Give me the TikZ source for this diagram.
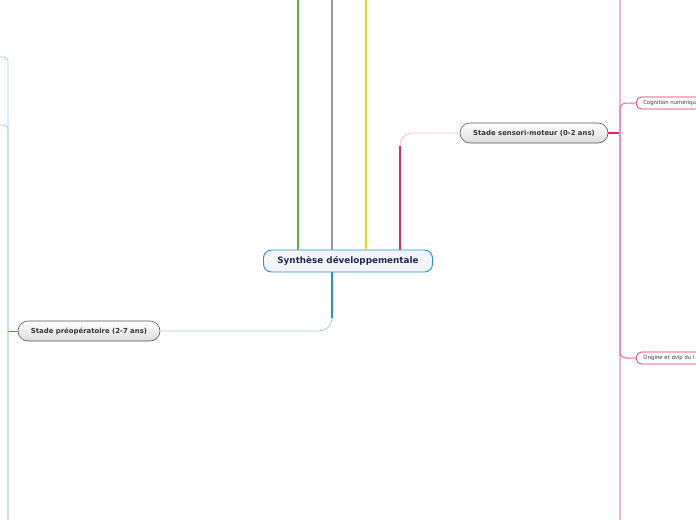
\documentclass[tikz,border=0pt]{standalone}
\usepackage{fontspec}
\setmainfont{DejaVu Sans}
\usetikzlibrary{positioning}
\definecolor{MapBlue}{HTML}{1E90E0}
\definecolor{MapBlueLight}{HTML}{9FCDF0}
\definecolor{MapCrimson}{HTML}{E5246A}
\definecolor{MapPink}{HTML}{F6B5CC}
\definecolor{MapGreen}{HTML}{5AAE48}
\definecolor{MapGray}{HTML}{959595}
\definecolor{MapYellow}{HTML}{F6D20E}
\definecolor{RootText}{HTML}{1C2A55}
\definecolor{RootFill}{HTML}{F4F5F8}
\definecolor{StageEdge}{HTML}{555555}
\definecolor{StageFill}{HTML}{DCDCDC}
\definecolor{StageText}{HTML}{333333}

\begin{document}
\begin{tikzpicture}[
    x=1pt, y=-1pt,
    root/.style={draw=MapBlue, line width=0.9pt, rounded corners=8pt, fill=RootFill, minimum width=169pt, minimum height=22pt, inner sep=0pt, text=RootText, font=\fontsize{8.8}{10}\selectfont\bfseries},
    stage/.style={draw=StageEdge, line width=0.6pt, rounded corners=10pt, top color=white, bottom color=StageFill, minimum height=20pt, inner sep=0pt, text=StageText, font=\fontsize{6.9}{8}\selectfont\bfseries},
    topic/.style={draw=MapCrimson, line width=0.7pt, rounded corners=5pt, fill=white, minimum height=12pt, anchor=west, text width=90pt, inner xsep=7pt, inner ysep=0pt, align=left, text=StageText, font=\fontsize{5.3}{6}\selectfont},
    trunk/.style={line width=2.4pt},
    twig/.style={line width=0.8pt, rounded corners=12pt},
]
\useasboundingbox (0,0) rectangle (696,520);
\clip (0,0) rectangle (696,520);

% --- Central topic and main stages ---
\node[root]  at (348,261) (synth)   {Synthèse développementale};
\node[stage, minimum width=148pt] at (534,133) (sensori) {Stade sensori-moteur (0-2 ans)};
\node[stage, minimum width=142pt] at (89,331)  (preop)   {Stade préopératoire (2-7 ans)};

% --- Sub-topics on the right ---
\node[topic] at (636,103) (cognum) {Cognition numérique};
\node[topic] at (636,358) (orig)   {Origine et dvlp du l};

% --- Free ends at the edges ---
\coordinate (topG) at (298,0);
\coordinate (topK) at (332,0);
\coordinate (topY) at (366,0);
\coordinate (rjoin) at (620,133);
\coordinate (rtop) at (620,0);
\coordinate (rbot) at (620,520);
\coordinate (ljoin) at (8,331);
\coordinate (lbot) at (8,520);
\coordinate (lchildA) at (0,57);
\coordinate (lchildB) at (0,125);

% --- Branches leaving the top of the root ---
\draw[trunk, MapGreen]  (synth.north -| topG) -- (topG);
\draw[trunk, MapGray]   (synth.north -| topK) -- (topK);
\draw[trunk, MapYellow] (synth.north -| topY) -- (topY);

% --- Sensori-moteur branch (pink) ---
\draw[twig, MapPink] (synth.north -| 400,0) |- (sensori.west);
\draw[trunk, MapCrimson] (synth.north -| 400,0) -- (400,146);
\draw[line width=1.4pt, MapCrimson] (sensori.east) -- (rjoin);
\draw[line width=1.3pt, MapPink] (rtop) -- (rbot);
\draw[line width=1pt, MapCrimson!70, rounded corners=6pt] (rjoin) |- (cognum.west);
\draw[line width=1pt, MapCrimson!70, rounded corners=6pt] (rjoin) |- (orig.west);

% --- Préopératoire branch (blue) ---
\draw[twig, MapBlueLight, rounded corners=13pt] (synth.south -| topK) |- (preop.east);
\draw[trunk, MapBlue] (synth.south -| topK) -- (332,318);
\draw[line width=0.8pt, MapBlue] (preop.west) -- (ljoin);
\draw[line width=0.8pt, MapBlueLight, rounded corners=4pt] (lchildA) -| (lbot);
\draw[line width=0.8pt, MapBlueLight, rounded corners=4pt] (lchildB) -| (lbot);

\end{tikzpicture}
\end{document}
